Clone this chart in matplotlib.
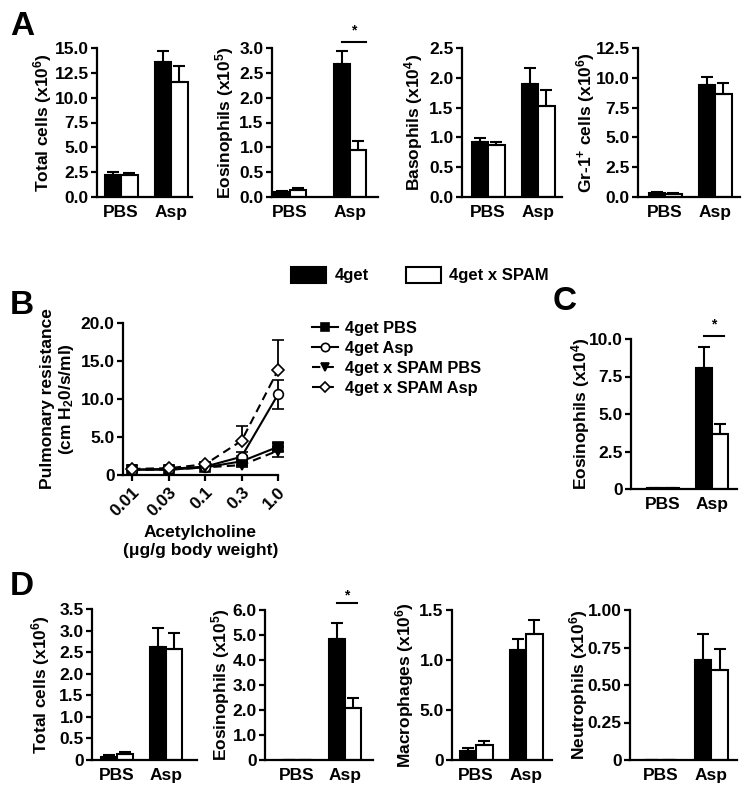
import numpy as np
import matplotlib
matplotlib.use('Agg')
import matplotlib.pyplot as plt
from matplotlib.patches import Patch
from matplotlib.lines import Line2D

plt.rcParams['font.family'] = ['Liberation Sans', 'DejaVu Sans']
plt.rcParams['font.weight'] = 'bold'
plt.rcParams['axes.labelweight'] = 'bold'
plt.rcParams['mathtext.fontset'] = 'custom'
plt.rcParams['mathtext.rm'] = 'Liberation Sans:bold'
plt.rcParams['mathtext.bf'] = 'Liberation Sans:bold'
plt.rcParams['mathtext.it'] = 'Liberation Sans:bold'
plt.rcParams['mathtext.default'] = 'bf'

groups = ['PBS', 'Asp']

# panel A (BAL, 4get vs 4get x SPAM)
a_total_4get = [2.2, 13.6]
a_total_4get_err = [0.35, 1.1]
a_total_spam = [2.2, 11.6]
a_total_spam_err = [0.2, 1.6]

a_eos_4get = [0.10, 2.68]
a_eos_4get_err = [0.02, 0.25]
a_eos_spam = [0.15, 0.94]
a_eos_spam_err = [0.03, 0.18]

a_baso_4get = [0.92, 1.90]
a_baso_4get_err = [0.07, 0.27]
a_baso_spam = [0.87, 1.53]
a_baso_spam_err = [0.06, 0.27]

a_gr1_4get = [0.30, 9.4]
a_gr1_4get_err = [0.08, 0.7]
a_gr1_spam = [0.25, 8.6]
a_gr1_spam_err = [0.05, 1.0]

# panel B (airway resistance)
doses = ['0.01', '0.03', '0.1', '0.3', '1.0']
b_4get_pbs = [0.7, 0.7, 1.0, 1.8, 3.7]
b_4get_pbs_err = [0.1, 0.1, 0.1, 0.2, 0.5]
b_4get_asp = [0.7, 0.8, 1.1, 2.4, 10.6]
b_4get_asp_err = [0.1, 0.1, 0.15, 0.6, 1.9]
b_spam_pbs = [0.7, 0.7, 1.0, 1.3, 3.2]
b_spam_pbs_err = [0.1, 0.1, 0.1, 0.2, 0.8]
b_spam_asp = [0.8, 0.9, 1.4, 4.5, 13.8]
b_spam_asp_err = [0.1, 0.1, 0.2, 1.9, 4.0]

# panel C
c_eos_4get = [0.05, 8.1]
c_eos_4get_err = [0.0, 1.4]
c_eos_spam = [0.05, 3.7]
c_eos_spam_err = [0.0, 0.65]

# panel D
d_total_4get = [0.07, 2.63]
d_total_4get_err = [0.05, 0.42]
d_total_spam = [0.15, 2.57]
d_total_spam_err = [0.04, 0.37]

d_eos_4get = [0.0, 4.85]
d_eos_4get_err = [0.0, 0.65]
d_eos_spam = [0.0, 2.1]
d_eos_spam_err = [0.0, 0.4]

d_mac_4get = [0.09, 1.10]
d_mac_4get_err = [0.03, 0.11]
d_mac_spam = [0.15, 1.26]
d_mac_spam_err = [0.04, 0.14]

d_neu_4get = [0.0, 0.67]
d_neu_4get_err = [0.0, 0.17]
d_neu_spam = [0.003, 0.60]
d_neu_spam_err = [0.0, 0.14]

W, H = 750, 789
fig = plt.figure(figsize=(W / 100, H / 100), dpi=100)


def add_ax(l, r, t, b):
    return fig.add_axes([l / W, 1 - b / H, (r - l) / W, (b - t) / H])


def style(ax):
    for s in ['top', 'right']:
        ax.spines[s].set_visible(False)
    for s in ['left', 'bottom']:
        ax.spines[s].set_linewidth(1.6)
    ax.tick_params(axis='y', length=4, width=1.6, labelsize=12.5, pad=2)


def bar_panel(box, black, black_err, white, white_err, ylim, yticks, yticklabels,
              ylabel, xlim, label_dx, width=0.33):
    ax = add_ax(*box)
    x = np.arange(len(groups))
    ekw = dict(ecolor='black', elinewidth=1.5, capsize=4, capthick=1.5)
    zeros = np.zeros(len(groups))
    ax.bar(x - width / 2, black, width, color='black', edgecolor='black', linewidth=1.5,
           yerr=[zeros, black_err], error_kw=ekw)
    ax.bar(x + width / 2, white, width, color='white', edgecolor='black', linewidth=1.5,
           yerr=[zeros, white_err], error_kw=ekw)
    ax.set_xlim(xlim)
    ax.set_ylim(ylim)
    ax.set_yticks(yticks)
    ax.set_yticklabels(yticklabels)
    ax.set_xticks(x)
    ax.set_xticklabels(groups)
    style(ax)
    ax.tick_params(axis='x', length=0, pad=6, labelsize=12.5)
    ax.set_ylabel(ylabel, fontsize=12.5, va='center')
    ax.yaxis.set_label_coords(label_dx / (box[1] - box[0]), 0.5)
    return ax


def star(ax, x0, x1, y_line, y_star):
    ax.plot([x0, x1], [y_line, y_line], color='black', lw=1.5, clip_on=False)
    ax.text((x0 + x1) / 2, y_star, '*', ha='center', va='center', fontsize=10, clip_on=False)


def fmt(ticks, dec=1):
    return ['%.*f' % (dec, t) for t in ticks]


# ---- A ----
t = [0, 2.5, 5, 7.5, 10, 12.5, 15]
bar_panel((97, 192, 48, 197), a_total_4get, a_total_4get_err, a_total_spam, a_total_spam_err,
          (0, 15), t, fmt(t), 'Total cells (x10$^{6}$)', (-0.48, 1.42), -54)
t = [0, 0.5, 1, 1.5, 2, 2.5, 3]
ax = bar_panel((272, 378, 48, 197), a_eos_4get, a_eos_4get_err, a_eos_spam, a_eos_spam_err,
               (0, 3), t, fmt(t), 'Eosinophils (x10$^{5}$)', (-0.3, 1.47), -47, width=0.27)
star(ax, 1 - 0.13, 1 + 0.27, 3.12, 3.36)
t = [0, 0.5, 1, 1.5, 2, 2.5]
bar_panel((462, 562, 48, 197), a_baso_4get, a_baso_4get_err, a_baso_spam, a_baso_spam_err,
          (0, 2.5), t, fmt(t), 'Basophils (x10$^{4}$)', (-0.52, 1.48), -48)
t = [0, 2.5, 5, 7.5, 10, 12.5]
bar_panel((638, 740, 48, 197), a_gr1_4get, a_gr1_4get_err, a_gr1_spam, a_gr1_spam_err,
          (0, 12.5), t, fmt(t), 'Gr-1$^{+}$ cells (x10$^{6}$)', (-0.54, 1.5), -52)

fig.legend(handles=[Patch(facecolor='black', edgecolor='black', linewidth=1.5),
                    Patch(facecolor='white', edgecolor='black', linewidth=1.5)],
           labels=['4get', '4get x SPAM'], ncol=2, loc='center',
           bbox_to_anchor=(420 / W, 1 - 275 / H), frameon=False, fontsize=12,
           handlelength=2.1, handleheight=1.15, handletextpad=0.5, columnspacing=2.2)

# ---- B ----
axb = add_ax(123, 278, 323, 475)
xb = np.arange(len(doses))
series = [
    (b_4get_pbs, b_4get_pbs_err, 's', 'black', '-', '4get PBS', 'up'),
    (b_4get_asp, b_4get_asp_err, 'o', 'white', '-', '4get Asp', 'both'),
    (b_spam_pbs, b_spam_pbs_err, 'v', 'black', (0, (4, 2.5)), '4get x SPAM PBS', 'down'),
    (b_spam_asp, b_spam_asp_err, 'D', 'white', (0, (4, 2.5)), '4get x SPAM Asp', 'up'),
]
handles = []
for vals, err, mk, mfc, ls, lab, side in series:
    err = np.array(err)
    lo = err if side in ('down', 'both') else np.zeros_like(err)
    hi = err if side in ('up', 'both') else np.zeros_like(err)
    ms = 6 if mk == 'D' else 7
    cont = axb.errorbar(xb, vals, yerr=[lo, hi], marker=mk, ms=ms, mfc=mfc, mec='black', mew=1.2,
                        color='black', ls=ls, lw=1.5, ecolor='black', elinewidth=1.3,
                        capsize=4.5, capthick=1.3)
    for art in cont.get_children():
        art.set_clip_on(False)
    handles.append(Line2D([], [], marker=mk, ms=ms - 1, mfc=mfc, mec='black', mew=1.2,
                          color='black', ls=ls, lw=1.5))
axb.set_xlim(-0.25, 4.0)
axb.set_ylim(0, 20)
axb.set_yticks([0, 5, 10, 15, 20])
axb.set_yticklabels(['0', '5.0', '10.0', '15.0', '20.0'])
axb.set_xticks(xb)
axb.set_xticklabels(doses, rotation=45, ha='right', rotation_mode='anchor')
style(axb)
axb.tick_params(axis='x', length=4, width=1.6, labelsize=12.5, pad=3)
axb.set_ylabel('Pulmonary resistance\n(cm H$_{2}$0/s/ml)', fontsize=12.5, va='center',
               linespacing=1.1)
axb.yaxis.set_label_coords(-0.42, 0.5)
axb.set_xlabel('Acetylcholine\n(\u03bcg/g body weight)', fontsize=12.5, linespacing=1.3)
fig.legend(handles=handles, labels=[s[5] for s in series], loc='upper left',
           bbox_to_anchor=(297 / W, 1 - 306 / H), frameon=False, fontsize=11.8,
           handlelength=1.6, handletextpad=0.4, labelspacing=0.3)

# ---- C ----
t = [0, 2.5, 5, 7.5, 10]
ax = bar_panel((631, 737, 339, 489), c_eos_4get, c_eos_4get_err, c_eos_spam, c_eos_spam_err,
               (0, 10), t, ['0', '2.5', '5.0', '7.5', '10.0'], 'Eosinophils (x10$^{4}$)',
               (-0.65, 1.51), -50)
star(ax, 1 - 0.165, 1 + 0.25, 10.2, 10.95)

# ---- D ----
t = [0, 0.5, 1, 1.5, 2, 2.5, 3, 3.5]
bar_panel((92, 197, 609, 760), d_total_4get, d_total_4get_err, d_total_spam, d_total_spam_err,
          (0, 3.5), t, ['0'] + fmt(t[1:]), 'Total cells (x10$^{6}$)', (-0.51, 1.63), -51)
t = [0, 1, 2, 3, 4, 5, 6]
ax = bar_panel((265, 373, 610, 760), d_eos_4get, d_eos_4get_err, d_eos_spam, d_eos_spam_err,
               (0, 6), t, ['0'] + fmt(t[1:]), 'Eosinophils (x10$^{5}$)', (-0.67, 1.58), -44)
star(ax, 1 - 0.165, 1 + 0.25, 6.28, 6.6)
t = [0, 0.5, 1, 1.5]
bar_panel((452, 552, 610, 760), d_mac_4get, d_mac_4get_err, d_mac_spam, d_mac_spam_err,
          (0, 1.5), t, ['0', '5.0', '1.0', '1.5'], 'Macrophages (x10$^{6}$)', (-0.48, 1.52), -47)
t = [0, 0.25, 0.5, 0.75, 1]
bar_panel((630, 737, 610, 760), d_neu_4get, d_neu_4get_err, d_neu_spam, d_neu_spam_err,
          (0, 1), t, ['0'] + fmt(t[1:], 2), 'Neutrophils (x10$^{6}$)', (-0.59, 1.5), -51)

# panel letters
for lab, px, py in [('A', 10, 35), ('B', 10, 314), ('C', 553, 310), ('D', 10, 595)]:
    fig.text(px / W, 1 - py / H, lab, fontsize=24, fontweight='bold', va='baseline')

fig.savefig('out.png', dpi=100)
